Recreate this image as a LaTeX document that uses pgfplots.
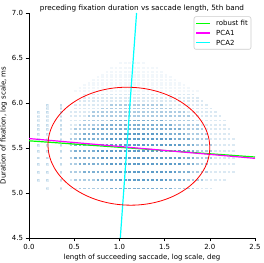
\documentclass[border=0pt]{standalone}
\usepackage{fontspec}
\setmainfont{DejaVu Sans}
\usepackage{pgfplots}
\pgfplotsset{compat=1.18}
\definecolor{cz}{HTML}{1F77B4}
\definecolor{robustgreen}{RGB}{0,255,0}
\definecolor{magn}{RGB}{255,0,255}
\definecolor{cyn}{RGB}{0,255,255}
\pgfplotsset{dotrow/.style={no markers, cz, line width=1.9bp, dash pattern=on 2.6bp off 1.92bp, unbounded coords=jump}}
\begin{document}
\fontsize{7}{8.4}\selectfont
\begin{tikzpicture}
\begin{axis}[
  scale only axis, width=226bp, height=225bp,
  xmin=0, xmax=2.5, ymin=4.5, ymax=7.0,
  axis x line*=bottom, axis y line*=left,
  axis line style={-, line width=0.6bp, black},
  tick align=outside, tick style={black, line width=0.6bp}, major tick length=3.5bp,
  xtick={0,0.5,1,1.5,2,2.5}, xticklabels={0.0,0.5,1.0,1.5,2.0,2.5},
  ytick={4.5,5,5.5,6,6.5,7}, yticklabels={4.5,5.0,5.5,6.0,6.5,7.0},
  ticklabel style={font=\fontsize{7}{8}\selectfont},
  title={preceding fixation duration vs saccade length, 5th band},
  every axis title/.style={at={(0.5,1)}, anchor=south, inner sep=0pt, yshift=1.2bp, font=\fontsize{7.3}{8.4}\selectfont},
  xlabel={length of succeeding saccade, log scale, deg},
  ylabel={Duration of fixation, log scale, ms},
  label style={font=\fontsize{7}{8.4}\selectfont},
]
\coordinate (sw) at (rel axis cs:0,0);
\coordinate (ne) at (rel axis cs:1,1);
% faint upper rows
\addplot[forget plot, dotrow, opacity=0.06] coordinates {
(0.50,6.129)(1.90,6.129)(nan,nan)
(0.55,6.163)(1.80,6.163)(nan,nan)
(0.60,6.196)(1.75,6.196)(nan,nan)
(0.65,6.227)(1.70,6.227)(nan,nan)
(0.70,6.257)(1.65,6.257)(nan,nan)
(0.75,6.286)(1.60,6.286)(nan,nan)
(0.80,6.314)(1.55,6.314)(nan,nan)
(0.85,6.341)(1.50,6.341)(nan,nan)
(0.90,6.392)(1.45,6.392)(nan,nan)
(1.00,6.440)(1.30,6.440)
};
% layer 1
\addplot[forget plot, dotrow, opacity=0.16] coordinates {
(0.45,5.050)(2.05,5.050)(nan,nan)
(0.45,5.140)(2.20,5.140)(nan,nan)
(0.45,5.235)(2.30,5.235)(nan,nan)
(0.45,5.318)(2.30,5.318)(nan,nan)
(0.45,5.393)(2.30,5.393)(nan,nan)
(0.45,5.465)(2.30,5.465)(nan,nan)
(0.45,5.532)(2.30,5.532)(nan,nan)
(0.45,5.595)(2.30,5.595)(nan,nan)
(0.45,5.652)(2.25,5.652)(nan,nan)
(0.45,5.707)(2.25,5.707)(nan,nan)
(0.45,5.757)(2.20,5.757)(nan,nan)
(0.45,5.805)(2.20,5.805)(nan,nan)
(0.45,5.851)(2.15,5.851)(nan,nan)
(0.45,5.896)(2.10,5.896)(nan,nan)
(0.50,5.939)(2.05,5.939)(nan,nan)
(0.50,5.980)(2.00,5.980)(nan,nan)
(0.55,6.020)(1.95,6.020)(nan,nan)
(0.60,6.058)(1.90,6.058)(nan,nan)
(0.60,6.094)(1.85,6.094)
};
% left columns
\addplot[forget plot, only marks, mark=square*, mark size=0.9bp, cz, opacity=0.15] coordinates {
(0.20,5.050)(0.35,5.050)
(0.10,5.140)(0.20,5.140)(0.35,5.140)
(0.10,5.235)(0.20,5.235)(0.35,5.235)
(0.10,5.318)(0.20,5.318)(0.35,5.318)
(0.10,5.393)(0.20,5.393)(0.35,5.393)
(0.10,5.465)(0.20,5.465)(0.35,5.465)
(0.10,5.532)(0.20,5.532)(0.35,5.532)
(0.10,5.595)(0.20,5.595)(0.35,5.595)
(0.10,5.652)(0.20,5.652)(0.35,5.652)
(0.10,5.707)(0.20,5.707)(0.35,5.707)
(0.10,5.757)(0.20,5.757)(0.35,5.757)
(0.10,5.805)(0.20,5.805)(0.35,5.805)
(0.10,5.851)(0.20,5.851)(0.35,5.851)
(0.10,5.896)(0.20,5.896)(0.35,5.896)
(0.20,5.939)(0.35,5.939)
(0.20,5.980)(0.35,5.980)
};
% layer 2
\addplot[forget plot, dotrow, opacity=0.25] coordinates {
(0.55,5.050)(1.85,5.050)(nan,nan)
(0.50,5.140)(1.95,5.140)(nan,nan)
(0.45,5.235)(2.00,5.235)(nan,nan)
(0.45,5.318)(2.00,5.318)(nan,nan)
(0.45,5.393)(2.05,5.393)(nan,nan)
(0.45,5.465)(2.05,5.465)(nan,nan)
(0.45,5.532)(2.05,5.532)(nan,nan)
(0.45,5.595)(2.00,5.595)(nan,nan)
(0.50,5.652)(2.00,5.652)(nan,nan)
(0.50,5.707)(1.95,5.707)(nan,nan)
(0.55,5.757)(1.90,5.757)(nan,nan)
(0.60,5.805)(1.85,5.805)(nan,nan)
(0.65,5.851)(1.80,5.851)(nan,nan)
(0.70,5.896)(1.75,5.896)(nan,nan)
(0.80,5.939)(1.60,5.939)(nan,nan)
(0.90,5.980)(1.50,5.980)
};
% layer 3
\addplot[forget plot, dotrow, opacity=0.33] coordinates {
(0.90,5.050)(1.60,5.050)(nan,nan)
(0.75,5.140)(1.75,5.140)(nan,nan)
(0.60,5.235)(1.80,5.235)(nan,nan)
(0.55,5.318)(1.85,5.318)(nan,nan)
(0.50,5.393)(1.85,5.393)(nan,nan)
(0.50,5.465)(1.85,5.465)(nan,nan)
(0.50,5.532)(1.85,5.532)(nan,nan)
(0.55,5.595)(1.80,5.595)(nan,nan)
(0.60,5.652)(1.75,5.652)(nan,nan)
(0.70,5.707)(1.70,5.707)(nan,nan)
(0.80,5.757)(1.60,5.757)(nan,nan)
(0.90,5.805)(1.50,5.805)
};
% layer 4
\addplot[forget plot, dotrow, opacity=0.33] coordinates {
(1.00,5.140)(1.55,5.140)(nan,nan)
(0.90,5.235)(1.65,5.235)(nan,nan)
(0.85,5.318)(1.70,5.318)(nan,nan)
(0.80,5.393)(1.70,5.393)(nan,nan)
(0.75,5.465)(1.75,5.465)(nan,nan)
(0.80,5.532)(1.70,5.532)(nan,nan)
(0.85,5.595)(1.60,5.595)(nan,nan)
(0.95,5.652)(1.50,5.652)
};
% fit lines
\addplot[forget plot, no markers, robustgreen, line width=1.2bp] coordinates {(0,5.58) (2.5,5.40)};
\addplot[forget plot, no markers, magn, line width=1.2bp] coordinates {(0,5.605) (2.5,5.385)};
\addplot[forget plot, no markers, cyn, line width=1.2bp] coordinates {(1.01,4.5) (1.19,7.0)};
\draw[red, line width=0.8bp, rotate around={-2:(axis cs:1.105,5.52)}] (axis cs:1.105,5.52) ellipse [x radius=0.895, y radius=0.655];
\end{axis}
% legend
\draw[black!20, fill=white, rounded corners=2bp, line width=0.6bp] ([xshift=-61bp,yshift=-3.7bp]ne) rectangle ([xshift=-4bp,yshift=-36.3bp]ne);
\draw[robustgreen, line width=1.3bp] ([xshift=-58.5bp,yshift=-10.5bp]ne) -- ++(14bp,0bp);
\draw[magn, line width=1.3bp] ([xshift=-58.5bp,yshift=-20bp]ne) -- ++(14bp,0bp);
\draw[cyn, line width=1.3bp] ([xshift=-58.5bp,yshift=-29.5bp]ne) -- ++(14bp,0bp);
\node[anchor=base west, inner sep=0pt, font=\fontsize{7}{8}\selectfont] at ([xshift=-39bp,yshift=-13bp]ne) {robust fit};
\node[anchor=base west, inner sep=0pt, font=\fontsize{7}{8}\selectfont] at ([xshift=-39bp,yshift=-22.5bp]ne) {PCA1};
\node[anchor=base west, inner sep=0pt, font=\fontsize{7}{8}\selectfont] at ([xshift=-39bp,yshift=-32bp]ne) {PCA2};
\pgfresetboundingbox
\path ([xshift=-29bp,yshift=-25bp]sw) rectangle ([xshift=9bp,yshift=13bp]ne);
\end{tikzpicture}
\end{document}
